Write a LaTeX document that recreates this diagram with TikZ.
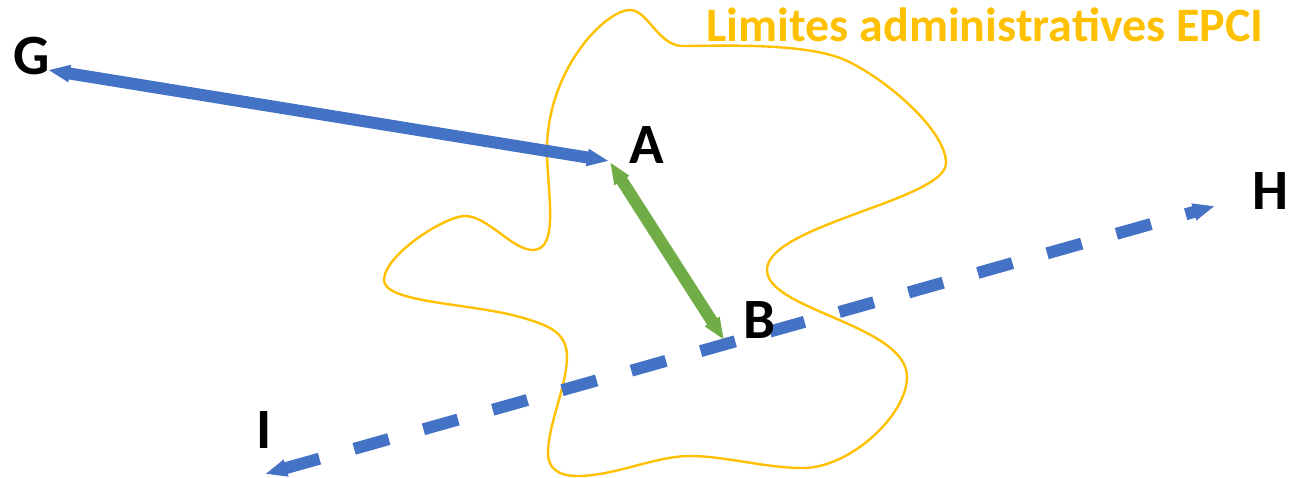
\documentclass[tikz,border=0pt]{standalone}
\usepackage{fontspec}
\setmainfont{Carlito}
\usetikzlibrary{arrows.meta}
\definecolor{epci}{HTML}{FFC000}
\definecolor{lineblue}{HTML}{4472C4}
\definecolor{linegreen}{HTML}{70AD47}
\tikzset{
  pointlabel/.style={font=\fontsize{57}{57}\selectfont\bfseries,text=black,inner sep=0pt,anchor=base},
  title/.style={font=\fontsize{48}{48}\selectfont\bfseries,text=epci,inner sep=0pt,anchor=base},
  link/.style={line width=12pt,{Triangle[length=22pt,width=16pt]}-{Triangle[length=22pt,width=16pt]}},
  outline/.style={draw=epci,line width=2.4pt}
}
\begin{document}
\begin{tikzpicture}[x=1pt,y=-1pt]
\useasboundingbox (0,0) rectangle (1291,477);
\path[outline] (630,10)
  .. controls (648,10) and (658,46) .. (683,46)
  .. controls (715,46) and (805,42) .. (845,60)
  .. controls (885,78) and (946,130) .. (946,163)
  .. controls (946,200) and (767,225) .. (767,270)
  .. controls (767,310) and (907,325) .. (907,377)
  .. controls (907,415) and (850,468) .. (803,468)
  .. controls (765,468) and (725,456) .. (690,456)
  .. controls (655,456) and (615,476) .. (577,476)
  .. controls (558,476) and (548,468) .. (548,453)
  .. controls (548,425) and (567,385) .. (567,357)
  .. controls (567,332) and (548,325) .. (520,317)
  .. controls (470,303) and (384,303) .. (384,280)
  .. controls (384,255) and (445,216) .. (465,216)
  .. controls (488,216) and (512,250) .. (533,250)
  .. controls (560,250) and (547,190) .. (547,150)
  .. controls (547,70) and (605,10) .. (630,10) -- cycle;
\coordinate (Ge) at (48,70);
\coordinate (Ae) at (609,161);
\coordinate (Ag) at (610,162);
\coordinate (Be) at (724,340);
\coordinate (Ie) at (265,474);
\coordinate (He) at (1215,206);
\draw[link,lineblue] (Ge) -- (Ae);
\draw[link,lineblue,dash pattern=on 36pt off 36pt] (Ie) -- (He);
\draw[link,linegreen] (Ag) -- (Be);
\node[pointlabel] (G) at (32,74) {G};
\node[pointlabel] (A) at (646.5,163.5) {A};
\node[pointlabel] (B) at (759,338) {B};
\node[pointlabel] (H) at (1270.5,209) {H};
\node[pointlabel] (I) at (264,448) {I};
\node[title] (T) at (985,41) {Limites administratives EPCI};
\end{tikzpicture}
\end{document}
